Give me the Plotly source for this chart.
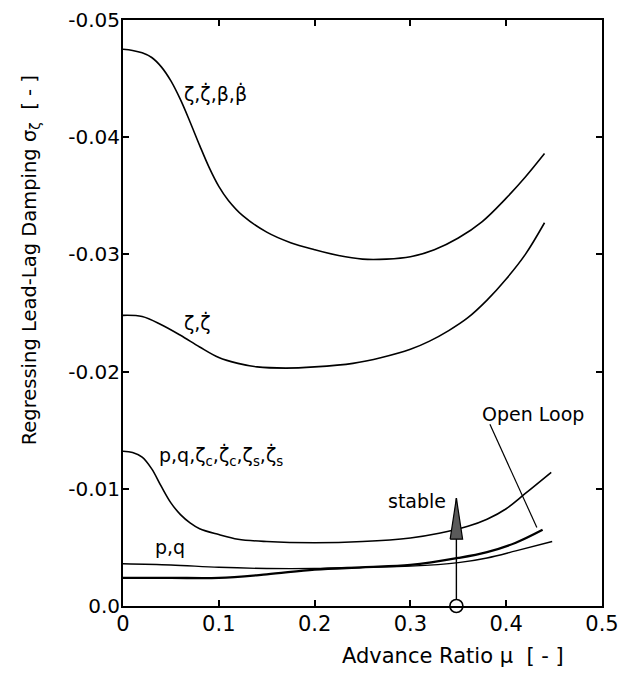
import plotly.graph_objects as go

# ---- data ----
mu_all = [0, 0.01, 0.02, 0.03, 0.04, 0.05, 0.06, 0.07, 0.08, 0.09, 0.10, 0.11, 0.125, 0.15,
          0.175, 0.20, 0.225, 0.25, 0.275, 0.30, 0.325, 0.35, 0.375, 0.40, 0.42, 0.44]
sig_all = [-0.0475, -0.0474, -0.0472, -0.0468, -0.0460, -0.0448, -0.0432, -0.0413, -0.0393,
           -0.0374, -0.0358, -0.0346, -0.0333, -0.0319, -0.0310, -0.0304, -0.0299, -0.0296,
           -0.0296, -0.0298, -0.0304, -0.0314, -0.0328, -0.0348, -0.0366, -0.0386]

mu_lag = [0, 0.02, 0.04, 0.06, 0.08, 0.10, 0.12, 0.14, 0.17, 0.20, 0.24, 0.27, 0.30, 0.32,
          0.34, 0.36, 0.38, 0.40, 0.42, 0.44]
sig_lag = [-0.0248, -0.0247, -0.0240, -0.0231, -0.0221, -0.0212, -0.0207, -0.0204, -0.0203,
           -0.0204, -0.0207, -0.0212, -0.0219, -0.0226, -0.0235, -0.0246, -0.0261, -0.0279,
           -0.0300, -0.0327]

mu_pqz = [0, 0.01, 0.02, 0.03, 0.04, 0.05, 0.06, 0.07, 0.08, 0.10, 0.12, 0.15, 0.20, 0.25,
          0.30, 0.33, 0.36, 0.38, 0.40, 0.42, 0.447]
sig_pqz = [-0.0132, -0.0131, -0.0127, -0.0117, -0.0102, -0.0088, -0.0078, -0.0071, -0.0066,
           -0.0061, -0.0057, -0.0055, -0.0054, -0.0055, -0.0058, -0.0062, -0.0068, -0.0074,
           -0.0083, -0.0096, -0.0114]

mu_pq = [0, 0.05, 0.10, 0.15, 0.20, 0.25, 0.30, 0.35, 0.38, 0.41, 0.448]
sig_pq = [-0.0036, -0.0035, -0.0033, -0.0032, -0.0032, -0.0033, -0.0034, -0.0037, -0.0041,
          -0.0047, -0.0055]

mu_open = [0, 0.05, 0.10, 0.15, 0.20, 0.25, 0.30, 0.35, 0.38, 0.41, 0.438]
sig_open = [-0.0024, -0.0024, -0.0024, -0.0027, -0.0031, -0.0033, -0.0035, -0.0041, -0.0046,
            -0.0054, -0.0065]

x_ticks = [0, 0.1, 0.2, 0.3, 0.4, 0.5]
x_ticktext = ["0", "0.1", "0.2", "0.3", "0.4", "0.5"]
y_ticks = [0, -0.01, -0.02, -0.03, -0.04, -0.05]
y_ticktext = ["0.0", "-0.01", "-0.02", "-0.03", "-0.04", "-0.05"]

# stability arrow (annotation data)
arrow_mu = 0.348
arrow_top = -0.0092
arrow_head_base = -0.0057
arrow_head_half = 0.0065

# open loop leader line
leader_mu = [0.383, 0.432]
leader_sig = [-0.0155, -0.0067]

FONT = "DejaVu Sans"

fig = go.Figure()
for xs, ys, w in [(mu_all, sig_all, 1.6), (mu_lag, sig_lag, 1.6), (mu_pqz, sig_pqz, 1.6),
                  (mu_pq, sig_pq, 1.4), (mu_open, sig_open, 2.3)]:
    fig.add_trace(go.Scatter(x=xs, y=ys, mode="lines",
                             line=dict(color="black", width=w, shape="spline", smoothing=1.0),
                             showlegend=False, hoverinfo="skip"))

# leader
fig.add_trace(go.Scatter(x=leader_mu, y=leader_sig, mode="lines", line=dict(color="black", width=1.2),
                         showlegend=False, hoverinfo="skip"))

# arrow shaft
fig.add_trace(go.Scatter(x=[arrow_mu, arrow_mu], y=[0, arrow_top], mode="lines",
                         line=dict(color="black", width=1.4), showlegend=False, hoverinfo="skip",
                         cliponaxis=False))
# arrow head
fig.add_trace(go.Scatter(x=[arrow_mu - arrow_head_half, arrow_mu, arrow_mu + arrow_head_half, arrow_mu - arrow_head_half],
                         y=[arrow_head_base, arrow_top, arrow_head_base, arrow_head_base],
                         mode="lines", fill="toself", fillcolor="#5a5a5a",
                         line=dict(color="black", width=1.2), showlegend=False, hoverinfo="skip"))
# circle at base
fig.add_trace(go.Scatter(x=[arrow_mu], y=[0], mode="markers",
                         marker=dict(size=13, color="white", line=dict(color="black", width=1.6)),
                         showlegend=False, hoverinfo="skip", cliponaxis=False))

labels = [
    (0.062, -0.0437, "ζ,ζ̇,β,β̇"),
    (0.062, -0.0242, "ζ,ζ̇"),
    (0.035, -0.0128, "p,q,ζ<sub>c</sub>,ζ̇<sub>c</sub>,ζ<sub>s</sub>,ζ̇<sub>s</sub>"),
    (0.031, -0.0050, "p,q"),
]
for x, y, t in labels:
    fig.add_annotation(x=x, y=y, text=t, showarrow=False, xanchor="left", yanchor="middle",
                       font=dict(family=FONT, size=19, color="black"))

fig.add_annotation(x=0.428, y=-0.0164, text="Open Loop", showarrow=False, xanchor="center", yanchor="middle",
                   font=dict(family=FONT, size=19, color="black"))
fig.add_annotation(x=0.339, y=-0.0090, text="stable", showarrow=False, xanchor="right", yanchor="middle",
                   font=dict(family=FONT, size=19, color="black"))

# axis titles (placed as in the reference, off-centre)
fig.add_annotation(xref="paper", yref="paper", x=-0.194, y=0.590, textangle=-90,
                   text="Regressing Lead-Lag Damping σ<sub>ζ</sub>  [ - ]", showarrow=False,
                   xanchor="center", yanchor="middle",
                   font=dict(family=FONT, size=19.5, color="black"))
fig.add_annotation(xref="paper", yref="paper", x=0.689, y=-0.0853,
                   text="Advance Ratio μ  [ - ]", showarrow=False,
                   xanchor="center", yanchor="middle",
                   font=dict(family=FONT, size=21, color="black"))

axis_common = dict(showline=True, linecolor="black", linewidth=2, mirror="ticks", ticks="inside",
                   ticklen=6, tickwidth=1.5, tickcolor="black", showgrid=False, zeroline=False,
                   automargin=False, ticklabeloverflow="allow")

fig.update_xaxes(range=[0, 0.5], tickvals=x_ticks, ticktext=x_ticktext, ticklabelstandoff=-2,
                 tickfont=dict(family=FONT, size=21, color="black"), **axis_common)
fig.update_yaxes(range=[0, -0.05], tickvals=y_ticks, ticktext=y_ticktext, ticklabelstandoff=-3,
                 tickfont=dict(family=FONT, size=20, color="black"), **axis_common)

fig.update_layout(width=624, height=666, margin=dict(l=115, r=30, t=12, b=68),
                  plot_bgcolor="white", paper_bgcolor="white", showlegend=False)

fig.write_html("out.html")
